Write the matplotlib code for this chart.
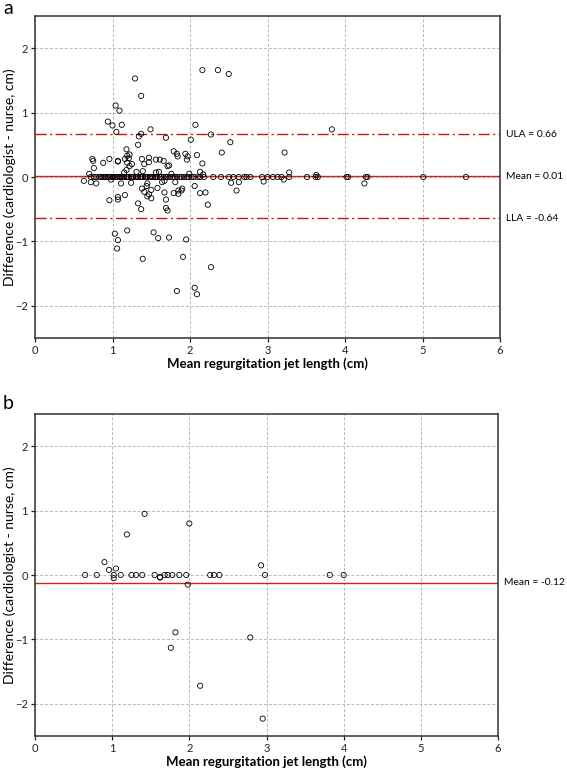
import numpy as np
import matplotlib
matplotlib.use("Agg")
import matplotlib.pyplot as plt

plt.rcParams['font.family'] = ['Lato', 'DejaVu Sans']

# panel a: points off the zero line (x = mean length, y = difference)
a_x = [2.16, 2.36, 2.50, 1.29, 1.37, 1.04, 1.09, 0.94, 1.00, 1.12, 1.05, 1.49, 2.07, 3.83,
       1.37, 1.34, 1.69, 2.27, 2.01, 2.52, 1.33, 1.18, 1.79, 1.83, 1.84, 1.94, 1.97, 1.96,
       2.09, 2.41, 3.22, 2.16, 0.74, 0.75, 0.76, 0.88, 0.96, 1.07, 1.07, 1.16, 1.19, 1.22,
       1.21, 1.19, 1.25, 1.22, 1.18, 1.15, 1.38, 1.47, 1.47, 1.41, 1.56, 1.61, 1.66, 1.71,
       1.73, 1.31, 1.39, 1.60, 1.56, 1.76, 2.13, 2.17, 1.99, 3.28, 0.70, 3.63,
       0.63, 0.72, 0.79, 0.98, 1.11, 1.24, 1.38, 1.41, 1.44, 1.45, 1.47, 1.45, 1.50, 1.50,
       1.58, 1.64, 1.67, 1.81, 1.79, 1.85, 1.85, 1.89, 1.90, 1.67, 2.06, 2.13, 2.20, 2.53,
       2.60, 2.63, 2.95, 3.21, 4.25, 0.96, 1.07, 1.07, 1.16, 1.33, 1.37, 1.69, 1.69, 1.71,
       2.23, 1.03, 1.07, 1.06, 1.19, 1.53, 1.59, 1.73, 1.95, 1.39, 1.91, 2.27, 1.83, 2.06, 2.09]
a_y = [1.66, 1.66, 1.60, 1.53, 1.26, 1.11, 1.03, 0.86, 0.80, 0.81, 0.70, 0.74, 0.81, 0.74,
       0.67, 0.63, 0.61, 0.66, 0.58, 0.54, 0.50, 0.43, 0.40, 0.36, 0.32, 0.36, 0.32, 0.27,
       0.34, 0.38, 0.38, 0.21, 0.28, 0.25, 0.14, 0.22, 0.28, 0.24, 0.25, 0.28, 0.33, 0.35,
       0.29, 0.22, 0.20, 0.17, 0.11, 0.07, 0.28, 0.30, 0.23, 0.20, 0.27, 0.27, 0.25, 0.17,
       0.18, 0.08, 0.09, 0.08, 0.07, 0.05, 0.08, 0.04, 0.05, 0.07, 0.05, 0.03,
       -0.06, -0.08, -0.10, -0.04, -0.10, -0.09, -0.18, -0.23, -0.14, -0.10, -0.27, -0.30, -0.33, -0.20,
       -0.17, -0.08, -0.06, -0.08, -0.25, -0.21, -0.26, -0.21, -0.18, -0.24, -0.14, -0.25, -0.24, -0.09,
       -0.21, -0.08, -0.07, -0.04, -0.10, -0.36, -0.31, -0.35, -0.28, -0.41, -0.50, -0.35, -0.48, -0.52,
       -0.43, -0.88, -0.98, -1.11, -0.83, -0.86, -0.95, -0.94, -0.97, -1.27, -1.24, -1.40, -1.77, -1.72, -1.82]

# panel a: points sitting on zero difference
a_zero_x = [0.72, 0.76, 0.79, 0.83, 0.85, 0.87, 0.90, 0.91, 0.94, 0.95, 0.97, 1.00, 1.01, 1.03,
            1.04, 1.06, 1.09, 1.10, 1.12, 1.13, 1.15, 1.18, 1.19, 1.21, 1.24, 1.25, 1.27, 1.30,
            1.31, 1.33, 1.36, 1.37, 1.39, 1.42, 1.43, 1.45, 1.48, 1.49, 1.52, 1.55, 1.56, 1.58,
            1.61, 1.63, 1.66, 1.69, 1.71, 1.74, 1.78, 1.80, 1.83, 1.87, 1.89, 1.92, 1.96, 1.98,
            2.02, 2.05, 2.10, 2.13, 2.18, 2.30, 2.40, 2.50, 2.56, 2.63, 2.70, 2.73, 2.78, 2.93,
            3.00, 3.07, 3.13, 3.18, 3.28, 3.51, 3.62, 3.65, 4.02, 4.04, 4.27, 4.29, 5.01, 5.56]

# panel b
b_x = [0.65, 0.80, 0.90, 0.96, 1.02, 1.02, 1.05, 1.11, 1.19, 1.25, 1.31, 1.39, 1.42, 1.55,
       1.62, 1.62, 1.68, 1.72, 1.78, 1.82, 1.76, 1.87, 1.96, 1.98, 2.00, 2.14, 2.27, 2.32,
       2.39, 2.79, 2.93, 2.98, 3.82, 4.00, 2.95]
b_y = [0.00, 0.00, 0.20, 0.08, 0.00, -0.05, 0.10, 0.00, 0.63, 0.00, 0.00, 0.00, 0.95, 0.00,
       -0.04, -0.03, 0.00, 0.00, 0.00, -0.89, -1.13, 0.00, 0.00, -0.15, 0.80, -1.72, 0.00, 0.00,
       0.00, -0.97, 0.15, 0.00, 0.00, 0.00, -2.23]

mean_a, ula_a, lla_a = 0.01, 0.66, -0.64
mean_b = -0.12

fig = plt.figure(figsize=(5.67, 7.69), dpi=100)
W, H = 567.0, 769.0


def setup(ax):
    ax.set_xlim(0, 6)
    ax.set_ylim(-2.5, 2.5)
    ax.set_xticks(range(0, 7))
    ax.set_yticks([-2, -1, 0, 1, 2])
    ax.grid(True, color='#b8b8b8', linestyle=(0, (3, 2)), linewidth=0.7)
    ax.set_axisbelow(True)
    for s in ax.spines.values():
        s.set_color('#333333')
        s.set_linewidth(1.1)
    ax.tick_params(labelsize=8, length=3, width=0.9, pad=2, colors='#222222')
    ax.set_xlabel('Mean regurgitation jet length (cm)', fontsize=9.5, fontweight='bold', labelpad=1)


mk = dict(s=14, facecolors='none', edgecolors='black', linewidths=0.6, zorder=3)

ax1 = fig.add_axes([35 / W, 1 - 338 / H, 465 / W, 322 / H])
setup(ax1)
ax1.axhline(mean_a, color='#d62020', lw=1.0, zorder=2)
ax1.axhline(ula_a, color='#c01818', lw=1.0, ls=(0, (8, 2.5, 1.5, 2.5)), zorder=2)
ax1.axhline(lla_a, color='#c01818', lw=1.0, ls=(0, (8, 2.5, 1.5, 2.5)), zorder=2)
ax1.scatter(a_zero_x, np.zeros(len(a_zero_x)), **mk)
ax1.scatter(a_x, a_y, **mk)
ax1.text(6.08, ula_a, 'ULA = 0.66', fontsize=7.4, va='center', ha='left')
ax1.text(6.08, mean_a, 'Mean = 0.01', fontsize=7.4, va='center', ha='left')
ax1.text(6.08, lla_a, 'LLA = -0.64', fontsize=7.4, va='center', ha='left')

ax2 = fig.add_axes([35 / W, 1 - 736 / H, 463 / W, 322 / H])
setup(ax2)
ax2.axhline(mean_b, color='#d62020', lw=1.0, zorder=2)
ax2.scatter(b_x, b_y, **mk)
ax2.text(6.08, mean_b, 'Mean = -0.12', fontsize=7.4, va='center', ha='left')

ylab = 'Difference (cardiologist - nurse, cm)'
fig.text(10 / W, 1 - 177 / H, ylab, fontsize=10, rotation=90, va='center', ha='center')
fig.text(10 / W, 1 - 575 / H, ylab, fontsize=10, rotation=90, va='center', ha='center')

fig.text(3 / W, 1 - 9 / H, 'a', fontsize=14, va='center', ha='left')
fig.text(3 / W, 1 - 404 / H, 'b', fontsize=14, va='center', ha='left')

fig.savefig('out.png', dpi=100)
